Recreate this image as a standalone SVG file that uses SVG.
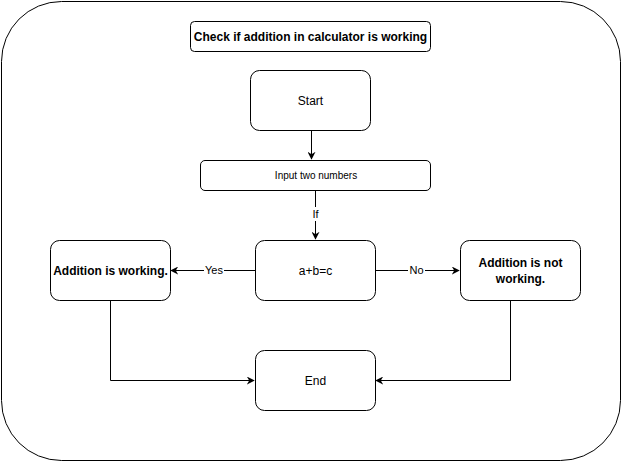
<svg xmlns="http://www.w3.org/2000/svg" width="622" height="462" viewBox="0 0 622 462">
<style>
.box{fill:#fff;stroke:#000;stroke-width:1}
.t{font-family:"Liberation Sans",Arial,sans-serif;font-size:12px;fill:#000;text-anchor:middle;dominant-baseline:central}
.b{font-weight:bold}
.e{fill:none;stroke:#000;stroke-width:1}
.lbl{font-family:"Liberation Sans",Arial,sans-serif;font-size:11px;fill:#000;text-anchor:middle;dominant-baseline:central}
</style>
<defs>
<marker id="arr" viewBox="0 0 10 10" refX="9" refY="5" markerWidth="8" markerHeight="8" markerUnits="userSpaceOnUse" orient="auto">
<path d="M0,0 L10,5 L0,10 L3,5 Z" fill="#000"/>
</marker>
</defs>
<rect width="622" height="462" fill="#fff"/>
<g id="container"><rect class="box" x="1.5" y="1.5" width="619" height="459" rx="60" ry="60"/></g>
<g id="connectors">
<path class="e" d="M311.5,130.5 V159" marker-end="url(#arr)"/>
<path class="e" d="M315.5,190.5 V239" marker-end="url(#arr)"/>
<path class="e" d="M255,270.5 H171" marker-end="url(#arr)"/>
<path class="e" d="M375,270.5 H459" marker-end="url(#arr)"/>
<path class="e" d="M110.5,300.5 V380.5 H254" marker-end="url(#arr)"/>
<path class="e" d="M510.5,300.5 V380.5 H376" marker-end="url(#arr)"/>
<rect x="311" y="207" width="9" height="14" fill="#fff"/>
<text class="lbl" x="315.5" y="214">If</text>
<rect x="204" y="263" width="20" height="14" fill="#fff"/>
<text class="lbl" x="214" y="270">Yes</text>
<rect x="408" y="263" width="17" height="14" fill="#fff"/>
<text class="lbl" x="416.5" y="270">No</text>
</g>
<g id="title"><rect class="box" x="190.5" y="21.5" width="240" height="30" rx="4"/><text class="t b" x="310.5" y="36.5">Check if addition in calculator is working</text></g>
<g id="start"><rect class="box" x="250.5" y="70.5" width="120" height="60" rx="9"/><text class="t" x="310.5" y="100.5">Start</text></g>
<g id="input"><rect class="box" x="200.5" y="160.5" width="230" height="30" rx="4.5"/><text class="t" x="316" y="175.5" style="font-size:10px">Input two numbers</text></g>
<g id="cond"><rect class="box" x="255.5" y="240.5" width="120" height="60" rx="9"/><text class="t" x="315.5" y="270.5">a+b=c</text></g>
<g id="yes"><rect class="box" x="50.5" y="240.5" width="120" height="60" rx="9"/><text class="t b" x="110.5" y="270.5">Addition is working.</text></g>
<g id="no"><rect class="box" x="460.5" y="240.5" width="120" height="60" rx="9"/><text class="t b" x="520.5" y="262.5">Addition is not</text><text class="t b" x="520.5" y="278.5">working.</text></g>
<g id="end"><rect class="box" x="255.5" y="350.5" width="120" height="60" rx="9"/><text class="t" x="315.5" y="380.5">End</text></g>
</svg>
